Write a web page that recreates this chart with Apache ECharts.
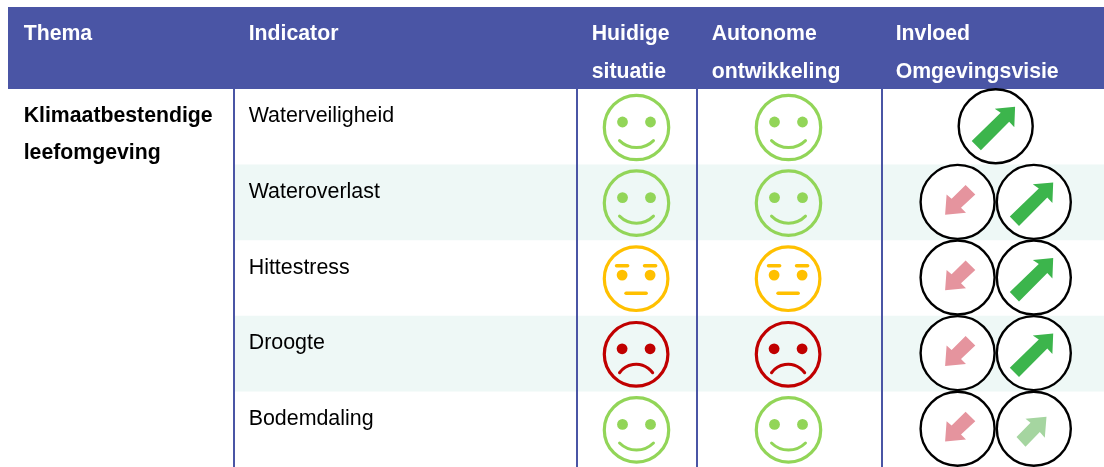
<!DOCTYPE html>
<html><head><meta charset="utf-8">
<style>html,body{margin:0;padding:0;background:#fff;overflow:hidden}#c{width:1104px;height:467px}</style>
<script src="https://cdn.jsdelivr.net/npm/echarts@6/dist/echarts.min.js"></script>
</head><body><div id="c"></div>
<script>
// ---- data ----
const headers = [['Thema'], ['Indicator'], ['Huidige', 'situatie'], ['Autonome', 'ontwikkeling'], ['Invloed', 'Omgevingsvisie']];
const themeLines = ['Klimaatbestendige', 'leefomgeving'];
const indicators = ['Waterveiligheid', 'Wateroverlast', 'Hittestress', 'Droogte', 'Bodemdaling'];
const huidigeSituatie = ['goed', 'goed', 'matig', 'slecht', 'goed'];
const autonomeOntwikkeling = ['goed', 'goed', 'matig', 'slecht', 'goed'];
const invloedNegatief = [false, true, true, true, true];
const invloedPositief = ['sterk', 'sterk', 'sterk', 'sterk', 'licht'];

// ---- layout & style ----
const W = 1104, HEADER = '#4a55a5', TINT = '#eef8f6', RULE = '#4a55a5';
const FONT = '"Liberation Sans", Arial, sans-serif', FS_BOLD = 21.25, FS = 21.4;
const X_TEXT = [23.7, 248.7, 591.7, 711.7, 895.7];
const X_RULES = [234, 577, 697, 882];
const X_FACE = [636.5, 788.5];
const X_CIRCLE = { single: 995.7, left: 957.6, right: 1033.8 };
const FACE = {
  goed: { c: '#92d558', eyeY: -5.5, r: 32.2, dx: 0 },
  matig: { c: '#ffc000', eyeY: -3.6, r: 31.8, dx: -0.4 },
  slecht: { c: '#c00000', eyeY: -5.5, r: 31.8, dx: -0.4 }
};
const ARROW_UP = [[19.4,-19.5],[18.6,1],[13.5,-4.5],[-14.8,24],[-24,14.6],[5,-13.5],[-1,-17.6]];
const ARROW_LIGHT = [[12.7,-12],[11,9],[6,3.3],[-8.3,18],[-17.3,8.3],[-3.3,-6],[-8.3,-10]];
const ARROW_DOWN = [[-12.5,12.8],[-11,-7.5],[-6,-3.2],[8,-17],[17.7,-7.5],[3.4,5.8],[8.4,10.8]];

const faceShapes = (kind, x, cy) => {
  const f = FACE[kind], c = f.c, out = [], cx = x + f.dx;
  const line = { stroke: c, lineWidth: 3, fill: null, lineCap: 'round' };
  const bar = { stroke: c, lineWidth: 3.6, fill: null, lineCap: 'round' };
  out.push({ type: 'circle', shape: { cx, cy, r: f.r }, style: { stroke: c, lineWidth: 3.2, fill: null } });
  [-14, 14].forEach(dx => out.push({ type: 'circle', shape: { cx: cx + dx, cy: cy + f.eyeY, r: 5.4 }, style: { fill: c } }));
  if (kind === 'goed') {
    out.push({ type: 'arc', shape: { cx, cy: cy - 3.9, r: 24, startAngle: Math.PI * 0.25, endAngle: Math.PI * 0.75 }, style: line });
  } else if (kind === 'slecht') {
    out.push({ type: 'arc', shape: { cx, cy: cy + 30.5, r: 20.5, startAngle: Math.PI * 1.2, endAngle: Math.PI * 1.8 }, style: line });
  } else {
    out.push({ type: 'line', shape: { x1: cx - 10, y1: cy + 14.5, x2: cx + 10, y2: cy + 14.5 }, style: bar });
    [-14, 14].forEach(dx => out.push({ type: 'line', shape: { x1: cx + dx - 5.5, y1: cy - 13, x2: cx + dx + 5.5, y2: cy - 13 }, style: bar }));
  }
  return out;
};
const arrowShapes = (pts, color, cx, cy) => [
  { type: 'circle', shape: { cx, cy, r: 37 }, style: { stroke: '#000', lineWidth: 2.4, fill: '#fff' } },
  { type: 'polygon', shape: { points: pts.map(p => [cx + p[0], cy + p[1]]) }, style: { fill: color } }
];
const label = (text, x, y, bold, color) => ({
  type: 'text', style: { text, x, y, fill: color, font: (bold ? 'bold ' + FS_BOLD : FS) + 'px ' + FONT, textAlign: 'left', textVerticalAlign: 'middle' }
});

const chart = echarts.init(document.getElementById('c'), null, { renderer: 'canvas' });
chart.setOption({
  animation: false,
  backgroundColor: '#fff',
  grid: [
    { left: 0, top: 89, width: W, height: 380 },
    { left: 0, top: 7, width: W, height: 82 }
  ],
  xAxis: [
    { type: 'value', min: 0, max: W, show: false, gridIndex: 0 },
    { type: 'value', min: 0, max: W, show: false, gridIndex: 1 }
  ],
  yAxis: [
    { type: 'category', data: indicators, inverse: true, show: false, gridIndex: 0 },
    { type: 'category', data: ['kop'], show: false, gridIndex: 1 }
  ],
  series: [
    { // row bands
      type: 'custom', data: indicators.map((_, i) => i), z: 1,
      renderItem: (p, api) => {
        const i = api.value(0), y = api.coord([0, i])[1], h = api.size([0, 1])[1];
        if (i % 2 === 0) return { type: 'group', children: [] };
        return { type: 'rect', shape: { x: 234, y: y - h / 2, width: W - 234, height: h }, style: { fill: TINT } };
      },
      encode: { y: 0 }
    },
    { // column rules
      type: 'custom', data: X_RULES, z: 2,
      renderItem: (p, api) => {
        const x = api.coord([api.value(0), 0])[0], h = p.coordSys.height, y = p.coordSys.y;
        return { type: 'line', shape: { x1: x, y1: y, x2: x, y2: y + h }, style: { stroke: RULE, lineWidth: 2 } };
      },
      encode: { x: 0 }
    },
    { // header band and titles
      type: 'custom', xAxisIndex: 1, yAxisIndex: 1, data: [0], coordinateSystem: 'cartesian2d', z: 3,
      renderItem: (p, api) => {
        const y = api.coord([0, 0])[1], h = api.size([0, 1])[1];
        const top = y - h / 2, children = [{ type: 'rect', shape: { x: 8, y: top, width: W - 8, height: h }, style: { fill: HEADER } }];
        headers.forEach((lines, i) => lines.forEach((t, j) => children.push(label(t, X_TEXT[i], top + 27 + j * 38, true, '#fff'))));
        return { type: 'group', children };
      }
    },
    { // theme and indicator text, faces, arrows
      type: 'custom', data: indicators.map((_, i) => i), z: 4,
      renderItem: (p, api) => {
        const i = api.value(0), cy = api.coord([0, i])[1], h = api.size([0, 1])[1], top = cy - h / 2;
        const kids = [label(indicators[i], X_TEXT[1], top + 27.5, false, '#000')];
        if (i === 0) themeLines.forEach((t, j) => kids.push(label(t, X_TEXT[0], top + 27.5 + j * 37, true, '#000')));
        kids.push(...faceShapes(huidigeSituatie[i], X_FACE[0], cy + 0.7));
        kids.push(...faceShapes(autonomeOntwikkeling[i], X_FACE[1], cy + 0.7));
        const up = invloedPositief[i] === 'sterk' ? ARROW_UP : ARROW_LIGHT;
        const upColor = invloedPositief[i] === 'sterk' ? '#3cb54c' : '#a5d5a0';
        const ay = cy - 0.5;
        if (invloedNegatief[i]) {
          kids.push(...arrowShapes(ARROW_DOWN, '#e5949e', X_CIRCLE.left, ay));
          kids.push(...arrowShapes(up, upColor, X_CIRCLE.right, ay));
        } else {
          kids.push(...arrowShapes(up, upColor, X_CIRCLE.single, ay));
        }
        return { type: 'group', children: kids };
      },
      encode: { y: 0 }
    }
  ]
});
</script></body></html>
